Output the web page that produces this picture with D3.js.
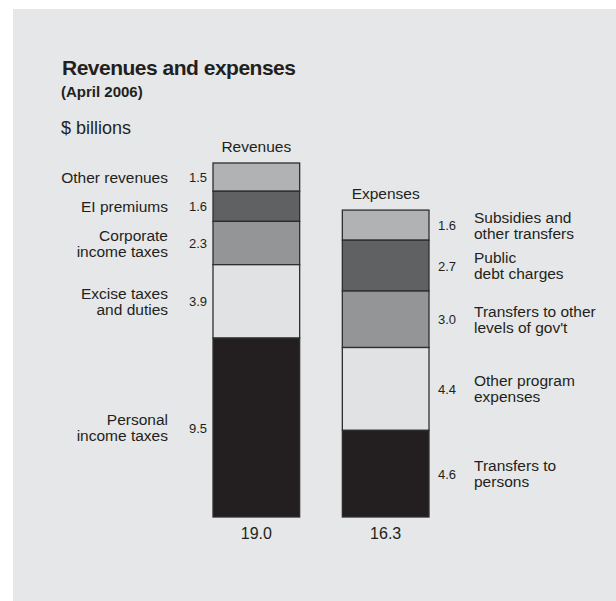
<!DOCTYPE html>
<html>
<head>
<meta charset="utf-8">
<script src="https://cdn.jsdelivr.net/npm/d3@7"></script>
<style>
  body{margin:0;background:#fff;}
  svg{display:block;font-family:"Liberation Sans",Arial,Helvetica,sans-serif;}
</style>
</head>
<body>
<svg id="drawing_region"></svg>
<script>
// bars, listed top to bottom as drawn
const bars = ["Revenues","Expenses"];
const revLabels = [["Other revenues"],["EI premiums"],["Corporate","income taxes"],["Excise taxes","and duties"],["Personal","income taxes"]];
const revValues = [1.5,1.6,2.3,3.9,9.5];
const expLabels = [["Subsidies and","other transfers"],["Public","debt charges"],["Transfers to other","levels of gov't"],["Other program","expenses"],["Transfers to","persons"]];
const expValues = [1.6,2.7,3.0,4.4,4.6];
const totals = [19.0,16.3];
const fills = ["#b1b2b4","#606163","#949597","#e1e2e3","#231f20"];

const width = 616, height = 601;
const ink = "#231f20";

const svg = d3.select("#drawing_region")
    .attr("width",width)
    .attr("height",height);

svg.append("rect")
    .attr("x",13).attr("y",9)
    .attr("width",width-13).attr("height",height-9)
    .attr("fill","#e6e7e8");

svg.append("text")
    .attr("x",62).attr("y",75)
    .attr("fill",ink)
    .attr("font-size","21px")
    .attr("font-weight","bold")
    .attr("letter-spacing","-0.5px")
    .text("Revenues and expenses");
svg.append("text")
    .attr("x",61).attr("y",97)
    .attr("fill",ink)
    .attr("font-size","15px")
    .attr("font-weight","bold")
    .text("(April 2006)");
svg.append("text")
    .attr("x",61).attr("y",134)
    .attr("fill",ink)
    .attr("font-size","18px")
    .text("$ billions");

const xscale = d3.scaleBand()
    .domain(bars)
    .range([213,429])
    .paddingInner(0.33)
    .paddingOuter(0);

const yscale = d3.scaleLinear()
    .domain([0,19])
    .range([517,517-19*18.83]);

function stack(values){
    // cumulative from the bottom of the bar
    let acc = 0;
    const out = [];
    for(let i=values.length-1;i>=0;i--){
        out[i] = {y0:acc,y1:acc+values[i],v:values[i]};
        acc += values[i];
    }
    return out;
}

const series = [
    {name:"Revenues",labels:revLabels,segs:stack(revValues),total:totals[0],side:"left"},
    {name:"Expenses",labels:expLabels,segs:stack(expValues),total:totals[1],side:"right"}
];

series.forEach(s=>{
    const g = svg.append("g");
    const x0 = xscale(s.name), bw = xscale.bandwidth();

    g.selectAll("rect")
        .data(s.segs)
        .enter()
        .append("rect")
        .attr("x",x0)
        .attr("y",d=>yscale(d.y1))
        .attr("width",bw)
        .attr("height",d=>yscale(d.y0)-yscale(d.y1))
        .attr("fill",(d,i)=>fills[i])
        .attr("stroke","#2e2e2e")
        .attr("stroke-width",1.3);

    // bar name on top
    g.append("text")
        .attr("x",x0+bw/2)
        .attr("y",yscale(s.segs[0].y1)-11)
        .attr("text-anchor","middle")
        .attr("fill",ink)
        .attr("font-size","15.5px")
        .text(s.name);

    // total underneath
    g.append("text")
        .attr("x",x0+bw/2)
        .attr("y",yscale(0)+22)
        .attr("text-anchor","middle")
        .attr("fill",ink)
        .attr("font-size","16px")
        .text(d3.format(".1f")(s.total));

    const left = s.side==="left";
    const vx = left ? x0-6 : x0+bw+9;
    const lx = left ? x0-45 : x0+bw+45;
    const anchor = left ? "end" : "start";

    g.selectAll(".val")
        .data(s.segs)
        .enter()
        .append("text")
        .attr("class","val")
        .attr("x",vx)
        .attr("y",d=>(yscale(d.y0)+yscale(d.y1))/2+5)
        .attr("text-anchor",anchor)
        .attr("fill",ink)
        .attr("font-size","13px")
        .text(d=>d3.format(".1f")(d.v));

    g.selectAll(".lab")
        .data(s.segs)
        .enter()
        .append("text")
        .attr("class","lab")
        .attr("text-anchor",anchor)
        .attr("fill",ink)
        .attr("font-size","15.5px")
        .each(function(d,i){
            const lines = s.labels[i];
            const cy = (yscale(d.y0)+yscale(d.y1))/2;
            const first = cy + 5.5 - (lines.length-1)*8;
            d3.select(this).selectAll("tspan")
                .data(lines)
                .enter()
                .append("tspan")
                .attr("x",lx)
                .attr("y",(l,j)=>first+j*16)
                .text(l=>l);
        });
});
</script>
</body>
</html>
